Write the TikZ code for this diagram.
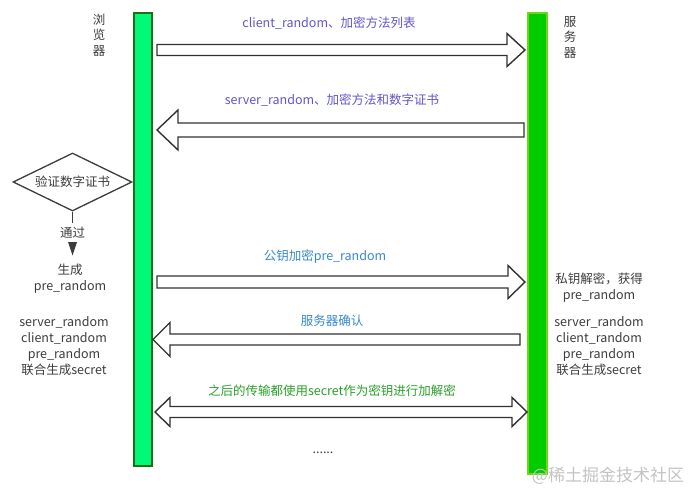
\documentclass[tikz,border=0pt]{standalone}
\usepackage{fontspec}
\setmainfont{Noto Sans CJK SC}
\usetikzlibrary{shapes.geometric,arrows.meta}

\definecolor{txtgray}{RGB}{60,60,60}
\definecolor{msgpurple}{RGB}{95,85,205}
\definecolor{msgblue}{RGB}{55,135,205}
\definecolor{msggreen}{RGB}{40,160,40}
\definecolor{lbarfill}{RGB}{0,250,120}
\definecolor{lbarline}{RGB}{30,110,20}
\definecolor{rbarfill}{RGB}{0,204,0}
\definecolor{rbarline}{RGB}{110,215,20}
\definecolor{arrowline}{RGB}{50,50,50}
\definecolor{markgray}{RGB}{195,195,195}

\tikzset{
  lane/.style={draw, line width=1.6pt, minimum width=18pt, inner sep=0pt},
  fatarrow/.style={draw=arrowline, line width=1.4pt, fill=white, line join=miter},
  plain/.style={text=txtgray, font=\fontsize{12.5}{16}\selectfont, align=center, inner sep=0pt},
  msg/.style={font=\fontsize{12.5}{16}\selectfont, inner sep=0pt, anchor=base},
}

% block arrow: tail x, tip x, y, shaft half-width, head half-width, signed head length
\newcommand{\blockarrow}[6]{%
  \draw[fatarrow] (#1,{#3-#4}) -- ({#2-#6},{#3-#4}) -- ({#2-#6},{#3-#5}) -- (#2,#3)
    -- ({#2-#6},{#3+#5}) -- ({#2-#6},{#3+#4}) -- (#1,{#3+#4}) -- cycle;}
% two-headed block arrow: left tip, right tip, y, shaft half, head half, head length
\newcommand{\blockarrowboth}[6]{%
  \draw[fatarrow] (#1,#3) -- ({#1+#6},{#3-#5}) -- ({#1+#6},{#3-#4}) -- ({#2-#6},{#3-#4})
    -- ({#2-#6},{#3-#5}) -- (#2,#3) -- ({#2-#6},{#3+#5}) -- ({#2-#6},{#3+#4})
    -- ({#1+#6},{#3+#4}) -- ({#1+#6},{#3+#5}) -- cycle;}

\begin{document}
\begin{tikzpicture}[x=1pt,y=-1pt]
\useasboundingbox (0,0) rectangle (695,494);

% lifelines
\node[lane, fill=lbarfill, draw=lbarline, minimum width=18.5pt, minimum height=453.5pt] (browser) at (143,239.5) {};
\node[lane, fill=rbarfill, draw=rbarline, minimum width=19.5pt, minimum height=461.5pt] (server) at (537.5,243.5) {};

% lane titles
\node[plain, font=\fontsize{12.5}{15.5}\selectfont] (browsername) at (99,35) {浏\\览\\器};
\node[plain, font=\fontsize{12.5}{15.5}\selectfont] (servername) at (570,37) {服\\务\\器};

% messages
\node[msg, text=msgpurple] (m1) at (329,28) {client\_random、加密方法列表};
\blockarrow{157}{525}{50}{5.5}{16.5}{18}

\node[msg, text=msgpurple] (m2) at (332,105) {server\_random、加密方法和数字证书};
\blockarrow{524}{157}{130}{7}{20}{-21}

\node[msg, text=msgblue] (m3) at (325,260) {公钥加密pre\_random};
\blockarrow{157}{525}{282}{6}{16.5}{17}

\node[msg, text=msgblue] (m4) at (332,325) {服务器确认};
\blockarrow{520}{153}{339.5}{5.5}{17}{-17}

\node[msg, text=msggreen] (m5) at (332,395) {之后的传输都使用secret作为密钥进行加解密};
\blockarrowboth{155}{527}{412}{5.5}{14.5}{15}

\node[msg, text=txtgray] (more) at (323,453) {......};

% certificate check on the browser side
\node[draw=txtgray, line width=1.3pt, diamond, aspect=2.05, inner sep=0pt,
      minimum width=119pt, minimum height=58pt, text=txtgray,
      font=\fontsize{12.5}{16}\selectfont] (check) at (72.5,182) {验证数字证书};
\node[plain] (pass) at (72.5,233) {通过};
\coordinate (passtop) at (72.5,223);
\draw[line width=1.3pt, draw=txtgray] (check.south) -- (passtop);
% filled arrowhead pointing down to the next step
\coordinate (markleft) at (68,242);
\coordinate (markright) at (77,242);
\coordinate (marktip) at (72.5,255.5);
\fill[txtgray] (markleft) -- (markright) -- (marktip) -- cycle;

\node[plain] (gen) at (70,279) {生成\\pre\_random};
\node[plain] (bkey) at (64,346) {server\_random\\client\_random\\pre\_random\\联合生成secret};

% server side
\node[plain] (decrypt) at (599,287.5) {私钥解密，获得\\pre\_random};
\node[plain] (skey) at (599,346) {server\_random\\client\_random\\pre\_random\\联合生成secret};

% site mark
\node[text=markgray, font=\fontsize{17}{20}\selectfont, inner sep=0pt] (site) at (608,476) {@稀土掘金技术社区};
\end{tikzpicture}
\end{document}
